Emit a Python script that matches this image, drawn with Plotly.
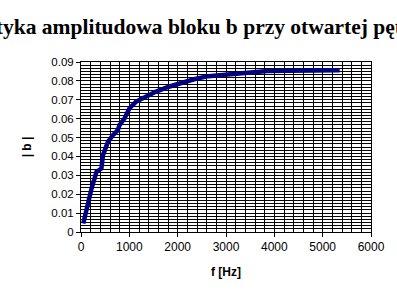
import plotly.graph_objects as go

freq = [47, 150, 218, 320, 422, 455, 557, 660, 761, 796, 898, 1000, 1136, 1340, 1545,
        1816, 2088, 2360, 2633, 2973, 3312, 3453, 3720, 3857, 4300, 4800, 5353]
amp = [0.0045, 0.0159, 0.023, 0.0318, 0.0336, 0.0407, 0.0477, 0.0513, 0.0539, 0.0566,
       0.0601, 0.0654, 0.0689, 0.0716, 0.0742, 0.0769, 0.0792, 0.081, 0.0825, 0.0834,
       0.084, 0.0845, 0.0848, 0.0852, 0.0854, 0.0855, 0.0856]

title_text = "Charakterystyka amplitudowa bloku b przy otwartej pętli"
x_title = "f [Hz]"
y_title = "| b |"

fig = go.Figure()
fig.add_trace(go.Scatter(x=freq, y=amp, mode="lines",
                         line=dict(color="#000080", width=4.5), showlegend=False))

axis_common = dict(showline=True, linecolor="black", linewidth=1, mirror=True,
                   gridcolor="black", gridwidth=1, zeroline=False,
                   ticks="outside", ticklen=4, tickcolor="black")

fig.update_xaxes(range=[0, 6000], dtick=1000, tick0=0,
                 tickfont=dict(family="Liberation Sans, Arial", size=12, color="black"),
                 minor=dict(dtick=200, showgrid=True, gridcolor="black", gridwidth=1),
                 title=dict(text=x_title, font=dict(family="Liberation Sans, Arial", size=12, color="black", weight="bold"), standoff=14),
                 **axis_common)
fig.update_yaxes(range=[0, 0.09], dtick=0.01, tick0=0,
                 tickfont=dict(family="Liberation Sans, Arial", size=11.5, color="black"),
                 minor=dict(dtick=0.01 / 6, showgrid=True, gridcolor="black", gridwidth=1),
                 title=dict(text=y_title, font=dict(family="Liberation Sans, Arial", size=12, color="black", weight="bold"), standoff=17),
                 **axis_common)

# plot area spans x 81..375 px and y 62..232 px
fig.add_annotation(text="<b>" + title_text + "</b>", xref="paper", yref="paper",
                   x=(421 - 81) / 294, y=(232 - 27) / 170, xanchor="right", yanchor="middle",
                   showarrow=False,
                   font=dict(family="Liberation Serif, Times New Roman", size=21.5, color="black"))

fig.update_layout(
    width=397, height=299,
    margin=dict(l=81, r=22, t=62, b=67),
    paper_bgcolor="white", plot_bgcolor="white",
)

fig.write_html("out.html")
